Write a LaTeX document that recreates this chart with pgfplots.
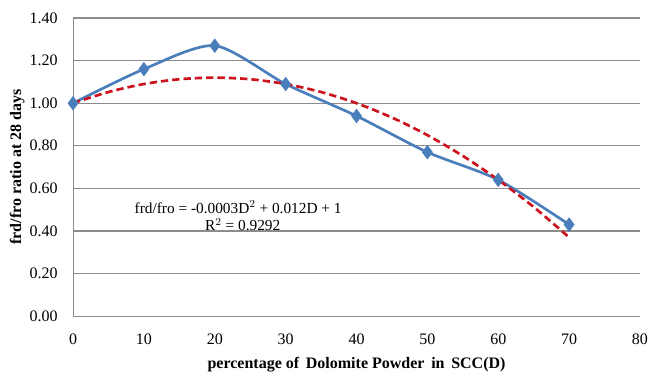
\documentclass[border=0pt]{standalone}
\usepackage{pgfplots}
\pgfplotsset{compat=1.18}
\usepackage{fontspec}
\setmainfont{Liberation Serif}
\definecolor{lineblue}{RGB}{74,126,187}
\definecolor{trendred}{RGB}{205,20,30}
\definecolor{gridgray}{RGB}{140,140,140}
\begin{document}
\begin{tikzpicture}
\begin{axis}[
  name=ax,
  scale only axis,
  width=425pt, height=223.5pt,
  xmin=0, xmax=80, ymin=0, ymax=1.4,
  xtick={0,10,...,80},
  ytick={0,0.2,...,1.4},
  axis x line=bottom, axis y line=left,
  axis line style={draw=gridgray,-, line width=0.8pt},
  ymajorgrids,
  grid style={draw=gridgray, line width=0.8pt},
  major tick length=0pt,
  /pgf/number format/assume math mode=true,
  yticklabel style={/pgf/number format/fixed, /pgf/number format/fixed zerofill, /pgf/number format/precision=2, xshift=-8pt},
  ticklabel style={font=\fontsize{12}{14}\selectfont},
  xticklabel style={yshift=-10pt},
  xlabel={\textbf{percentage of\, Dolomite Powder\, in\, SCC(D)}},
  ylabel={\textbf{frd/fro ratio at 28 days}},
  label style={font=\fontsize{12}{14}\selectfont},
  xlabel style={yshift=-2pt},
  ylabel style={yshift=-3pt},
  clip=false,
]
\addplot[lineblue, line width=2pt, smooth, tension=0.45, mark=diamond*, mark size=3.8pt, mark options={fill=lineblue, draw=lineblue}]
  coordinates {(0,1.00) (10,1.16) (20,1.27) (30,1.09) (40,0.94) (50,0.77) (60,0.64) (70,0.43)};
\addplot[trendred, line width=2pt, dash pattern=on 5.5pt off 3pt, smooth]
  coordinates {(0,1.00) (5,1.0525) (10,1.09) (15,1.1125) (20,1.12) (25,1.1125) (30,1.09) (35,1.0525) (40,1.00) (45,0.9325) (50,0.85) (55,0.7525) (60,0.64) (65,0.5125) (70,0.37)};
\node[align=center, font=\fontsize{11.5}{13}\selectfont, inner sep=0pt] at (axis cs:23.3,0.47)
  {frd/fro = -0.0003D$^{2}$ + 0.012D + 1\\\hspace*{0.6em}R$^{2}$ = 0.9292};
\end{axis}
\pgfresetboundingbox
\path ([xshift=-54.75pt,yshift=-41.25pt]ax.south west) rectangle ([xshift=8.25pt,yshift=13.5pt]ax.north east);
\end{tikzpicture}
\end{document}
